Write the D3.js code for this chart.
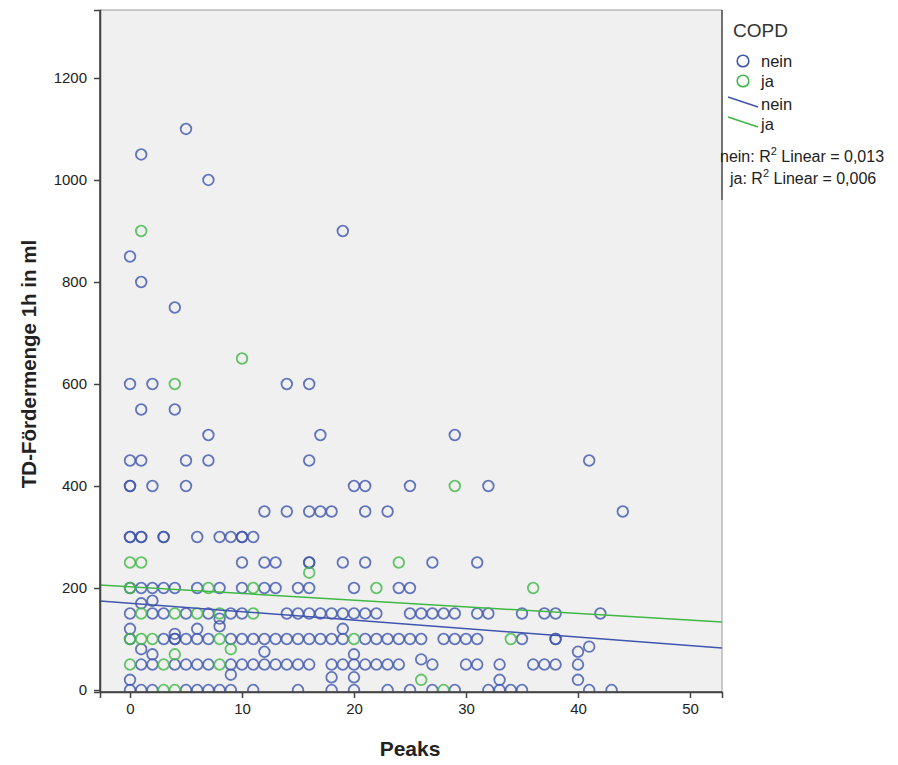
<!DOCTYPE html>
<html><head><meta charset="utf-8">
<script src="https://cdn.jsdelivr.net/npm/d3@7"></script>
<style>
body{margin:0;background:#fff;}
text{font-family:"Liberation Sans",Arial,sans-serif;}
</style></head><body>
<svg id="chart" width="898" height="765"></svg>
<script>
// ---- data ----
const xTicks = [0, 10, 20, 30, 40, 50];
const yTicks = [0, 200, 400, 600, 800, 1000, 1200];
const groups = ["nein", "ja"];
const neinPoints = [
 [5,1100],[1,1050],[7,1000],[19,900],[0,850],[1,800],[4,750],
 [0,600],[2,600],[14,600],[16,600],[1,550],[4,550],[7,500],[17,500],[29,500],
 [0,450],[1,450],[5,450],[7,450],[16,450],[41,450],
 [0,400],[0,400],[2,400],[5,400],[20,400],[21,400],[25,400],[32,400],
 [12,350],[14,350],[16,350],[17,350],[18,350],[21,350],[23,350],[44,350],
 [0,300],[0,300],[1,300],[1,300],[3,300],[3,300],[6,300],[8,300],[9,300],[10,300],[10,300],[11,300],
 [10,250],[12,250],[13,250],[16,250],[16,250],[19,250],[21,250],[27,250],[31,250],
 [0,200],[1,200],[2,200],[3,200],[4,200],[6,200],[8,200],[10,200],[12,200],[13,200],[15,200],[16,200],[20,200],[24,200],[25,200],
 [1,170],[2,175],
 [0,150],[2,150],[3,150],[5,150],[7,150],[9,150],[10,150],[14,150],[15,150],[16,150],[17,150],[18,150],[19,150],[20,150],[21,150],[22,150],
 [25,150],[26,150],[27,150],[28,150],[29,150],[31,150],[32,150],[35,150],[37,150],[38,150],[42,150],
 [0,120],[4,110],[6,120],[8,140],[8,125],[19,120],
 [0,100],[3,100],[4,100],[4,100],[5,100],[6,100],[7,100],[9,100],[10,100],[11,100],[12,100],[13,100],[14,100],[15,100],[16,100],[17,100],
 [18,100],[19,100],[21,100],[22,100],[23,100],[24,100],[25,100],[26,100],[28,100],[29,100],[30,100],[31,100],[35,100],[38,100],[38,100],
 [1,80],[2,70],[12,75],[20,70],[40,75],[41,85],[26,60],
 [1,50],[2,50],[4,50],[5,50],[6,50],[7,50],[9,50],[10,50],[11,50],[12,50],[13,50],[14,50],[15,50],[16,50],[18,50],[19,50],[20,50],
 [21,50],[22,50],[23,50],[24,50],[27,50],[30,50],[31,50],[33,50],[36,50],[37,50],[38,50],[40,50],
 [0,20],[9,30],[18,25],[20,25],[33,20],[40,20],
 [0,0],[1,0],[2,0],[5,0],[6,0],[7,0],[8,0],[9,0],[11,0],[15,0],[18,0],[20,0],[23,0],[25,0],[27,0],[29,0],[32,0],[33,0],[34,0],[35,0],[41,0],[43,0]
];
const jaPoints = [
 [1,900],[10,650],[4,600],[29,400],
 [0,250],[1,250],[24,250],[16,230],
 [0,200],[7,200],[11,200],[22,200],[36,200],
 [1,150],[4,150],[6,150],[8,150],[11,150],
 [0,100],[1,100],[2,100],[8,100],[20,100],[34,100],
 [9,80],[4,70],
 [0,50],[3,50],[8,50],
 [26,20],
 [3,0],[4,0],[28,0]
];
// fit lines: [intercept, slope] as drawn in the reference
const neinFit = [170.1, -1.658];
const jaFit = [202.4, -1.307];
const r2Labels = ["nein: R\u00B2 Linear = 0,013", "ja: R\u00B2 Linear = 0,006"];

// ---- layout ----
const L = 100, R = 722, T = 10, B = 692;
const colors = {nein: "#3f55ae", ja: "#3fb845"};
const svg = d3.select("#chart");
const x = d3.scaleLinear().domain([-2.68, 52.86]).range([L, R]);
const y = d3.scaleLinear().domain([-3.9, 1333.3]).range([B, T]);

svg.append("rect").attr("x", L).attr("y", T).attr("width", R - L).attr("height", B - T)
  .attr("fill", "#f0f0f0").attr("stroke", "#9a9a9a").attr("stroke-width", 1);

svg.append("clipPath").attr("id", "clip").append("rect")
  .attr("x", L).attr("y", T).attr("width", R - L).attr("height", B - T);

const plot = svg.append("g").attr("clip-path", "url(#clip)");

function drawPts(pts, col) {
  plot.append("g").selectAll("circle").data(pts).join("circle")
    .attr("cx", d => x(d[0])).attr("cy", d => y(d[1])).attr("r", 5.3)
    .attr("fill", "none").attr("stroke", col).attr("stroke-width", 1.8)
    .attr("stroke-opacity", 0.8);
}
drawPts(neinPoints, colors.nein);
drawPts(jaPoints, colors.ja);

function drawFit(f, col) {
  const xs = x.domain();
  plot.append("line")
    .attr("x1", x(xs[0])).attr("y1", y(f[0] + f[1] * xs[0]))
    .attr("x2", x(xs[1])).attr("y2", y(f[0] + f[1] * xs[1]))
    .attr("stroke", col).attr("stroke-width", 1.5);
}
drawFit(neinFit, colors.nein);
drawFit(jaFit, colors.ja);

// axes
const xAxis = svg.append("g").attr("transform", `translate(0,${B})`)
  .call(d3.axisBottom(x).tickValues(xTicks).tickFormat(d3.format("d")).tickSize(6).tickPadding(5));
const yAxis = svg.append("g").attr("transform", `translate(${L},0)`)
  .call(d3.axisLeft(y).tickValues(yTicks).tickFormat(d3.format("d")).tickSize(6).tickPadding(7));
[xAxis, yAxis].forEach(a => {
  a.select(".domain").attr("stroke", "#444").attr("stroke-width", 1.5);
  a.selectAll(".tick line").attr("stroke", "#444").attr("stroke-width", 1.5);
  a.selectAll(".tick text").attr("font-size", 15).attr("fill", "#222")
    .style("font-family", '"Liberation Sans", Arial, sans-serif');
});
svg.append("line").attr("x1", L).attr("x2", R).attr("y1", B).attr("y2", B).attr("stroke", "#444").attr("stroke-width", 1.5);
svg.append("line").attr("x1", L).attr("x2", L).attr("y1", T).attr("y2", B).attr("stroke", "#444").attr("stroke-width", 1.5);
svg.append("line").attr("x1", R).attr("x2", R).attr("y1", T).attr("y2", 200).attr("stroke", "#555").attr("stroke-width", 1.5);

// axis titles
svg.append("text").attr("x", 410).attr("y", 756).attr("text-anchor", "middle")
  .attr("font-size", 21).attr("font-weight", "bold").attr("fill", "#222").text("Peaks");
svg.append("text").attr("transform", `translate(36,${364}) rotate(-90)`)
  .attr("text-anchor", "middle").attr("font-size", 20.5).attr("font-weight", "bold")
  .attr("fill", "#222").text("TD-Fördermenge 1h in ml");

// legend
const lg = svg.append("g");
lg.append("text").attr("x", 733).attr("y", 37).attr("font-size", 19).attr("fill", "#333").text("COPD");
groups.forEach((g, i) => {
  lg.append("circle").attr("cx", 743).attr("cy", 61 + i * 20).attr("r", 5.8)
    .attr("fill", "none").attr("stroke", colors[g]).attr("stroke-width", 1.6);
  lg.append("text").attr("x", 761).attr("y", 67 + i * 20).attr("font-size", 16.5).attr("fill", "#222").text(g);
  lg.append("line").attr("x1", 728).attr("y1", 97 + i * 20).attr("x2", 758).attr("y2", 107 + i * 20)
    .attr("stroke", colors[g]).attr("stroke-width", 1.5);
  lg.append("text").attr("x", 761).attr("y", 110 + i * 20).attr("font-size", 16.5).attr("fill", "#222").text(g);
});
r2Labels.forEach((t, i) => {
  const parts = t.split("\u00B2");
  const tx = lg.append("text").attr("x", i === 0 ? 720 : 730).attr("y", 162 + i * 22)
    .attr("font-size", 16).attr("fill", "#222");
  tx.append("tspan").text(parts[0]);
  tx.append("tspan").attr("dy", -7).attr("font-size", 11).text("2");
  tx.append("tspan").attr("dy", 7).text(parts[1]);
});
</script>
</body></html>
